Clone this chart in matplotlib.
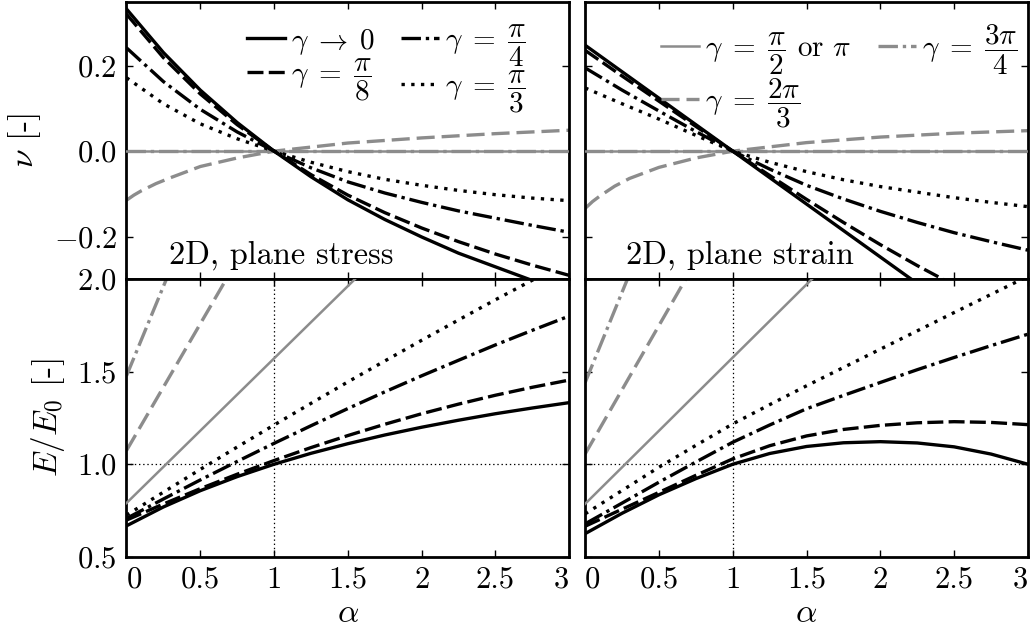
import matplotlib
matplotlib.use('Agg')
import matplotlib.pyplot as plt

plt.rc('font', family='serif', serif=['cmr10'], size=22)
plt.rc('mathtext', fontset='cm')
plt.rc('axes', linewidth=2.0, labelsize=24)
plt.rc('axes.formatter', use_mathtext=True)
plt.rc('lines', scale_dashes=False)
plt.rc('legend', fontsize=21)

# alpha grid used for the black curves
alpha = [0, 0.25, 0.5, 0.75, 1, 1.25, 1.5, 1.75, 2, 2.25, 2.5, 2.75, 3]
# finer grid near 0 for the grey nu curves, short grid for the straight grey E lines
alpha_fine = [0, 0.05, 0.1, 0.2, 0.3, 0.5, 0.75, 1, 1.5, 2, 2.5, 3]
alpha_lin = [0, 0.5, 1, 1.5, 2]

# --- 2D plane stress, Poisson ratio nu
nu_stress_g0 = [0.333, 0.231, 0.143, 0.067, 0.0, -0.060, -0.114, -0.160, -0.201, -0.239, -0.271, -0.303, -0.333]
nu_stress_pi8 = [0.321, 0.219, 0.134, 0.062, 0.0, -0.055, -0.103, -0.144, -0.180, -0.212, -0.241, -0.267, -0.291]
nu_stress_pi4 = [0.242, 0.163, 0.098, 0.045, 0.0, -0.039, -0.072, -0.098, -0.120, -0.140, -0.157, -0.174, -0.190]
nu_stress_pi3 = [0.172, 0.111, 0.064, 0.029, 0.0, -0.026, -0.048, -0.066, -0.080, -0.092, -0.102, -0.110, -0.116]
nu_stress_pi2 = [0.0] * len(alpha)
nu_stress_3pi4 = [0.0] * len(alpha)
nu_stress_2pi3 = [-0.115, -0.103, -0.093, -0.076, -0.062, -0.036, -0.016, 0.0, 0.019, 0.031, 0.041, 0.049]

# --- 2D plane strain, Poisson ratio nu
nu_strain_g0 = [0.248, 0.186, 0.124, 0.062, 0.0, -0.062, -0.124, -0.186, -0.248, -0.310, -0.372, -0.434, -0.496]
nu_strain_pi8 = [0.236, 0.176, 0.117, 0.058, 0.0, -0.057, -0.113, -0.167, -0.219, -0.268, -0.314, -0.358, -0.400]
nu_strain_pi4 = [0.195, 0.143, 0.094, 0.046, 0.0, -0.042, -0.080, -0.112, -0.141, -0.167, -0.191, -0.212, -0.232]
nu_strain_pi3 = [0.148, 0.111, 0.075, 0.037, 0.0, -0.026, -0.048, -0.067, -0.083, -0.096, -0.109, -0.120, -0.130]
nu_strain_pi2 = [0.0] * len(alpha)
nu_strain_3pi4 = [0.0] * len(alpha)
nu_strain_2pi3 = [-0.134, -0.118, -0.105, -0.082, -0.064, -0.038, -0.016, 0.0, 0.020, 0.033, 0.042, 0.048]

# --- 2D plane stress, stiffness E/E0
E_stress_g0 = [0.667, 0.769, 0.857, 0.933, 1.0, 1.059, 1.111, 1.158, 1.200, 1.238, 1.273, 1.304, 1.333]
E_stress_pi8 = [0.698, 0.785, 0.868, 0.946, 1.020, 1.090, 1.155, 1.216, 1.273, 1.325, 1.373, 1.416, 1.455]
E_stress_pi4 = [0.707, 0.812, 0.915, 1.015, 1.113, 1.208, 1.301, 1.391, 1.478, 1.562, 1.645, 1.724, 1.801]
E_stress_pi3 = [0.725, 0.849, 0.972, 1.093, 1.212, 1.329, 1.445, 1.558, 1.670, 1.780, 1.889, 1.995, 2.100]
E_stress_pi2 = [0.790, 1.181, 1.572, 1.963, 2.354]
E_stress_2pi3 = [1.074, 1.759, 2.444, 3.129, 3.814]
E_stress_3pi4 = [1.478, 2.444, 3.410, 4.376, 5.342]

# --- 2D plane strain, stiffness E/E0
E_strain_g0 = [0.625, 0.735, 0.835, 0.922, 1.0, 1.058, 1.096, 1.116, 1.122, 1.115, 1.094, 1.055, 1.0]
E_strain_pi8 = [0.665, 0.757, 0.848, 0.940, 1.029, 1.100, 1.153, 1.188, 1.210, 1.224, 1.230, 1.226, 1.214]
E_strain_pi4 = [0.678, 0.790, 0.903, 1.012, 1.119, 1.212, 1.300, 1.372, 1.442, 1.511, 1.577, 1.641, 1.703]
E_strain_pi3 = [0.732, 0.858, 0.984, 1.102, 1.218, 1.322, 1.424, 1.523, 1.622, 1.721, 1.820, 1.918, 2.016]
E_strain_pi2 = [0.786, 1.181, 1.577, 1.972, 2.368]
E_strain_2pi3 = [1.056, 1.750, 2.444, 3.138, 3.832]
E_strain_3pi4 = [1.442, 2.418, 3.393, 4.369, 5.344]

black_labels = [r'$\gamma\;\rightarrow\;0$', r'$\gamma\;=\;\dfrac{\pi}{8}$',
                r'$\gamma\;=\;\dfrac{\pi}{4}$', r'$\gamma\;=\;\dfrac{\pi}{3}$']
gray_labels = [r'$\gamma\;=\;\dfrac{\pi}{2}$ or $\pi$', r'$\gamma\;=\;\dfrac{2\pi}{3}$',
               r'$\gamma\;=\;\dfrac{3\pi}{4}$']

xticks = [0, 0.5, 1, 1.5, 2, 2.5, 3]
xtick_labels = ['0', '0.5', '1', '1.5', '2', '2.5', '3']
nu_ticks = [-0.2, 0.0, 0.2]
nu_tick_labels = [r'$-0.2$', r'$0.0$', r'$0.2$']
E_ticks = [0.5, 1.0, 1.5, 2.0]
E_tick_labels = [r'$0.5$', r'$1.0$', r'$1.5$', r'$2.0$']

gray = '0.55'
st_solid = '-'
st_dash = (0, (11.5, 3.8))
st_dash_g = (0, (13, 5))
st_dashdot = (0, (14, 3.5, 2.4, 3.5))
st_dot = (0, (2.4, 4.6))
lw_k = 2.4
lw_g = 2.4
lw_gs = 1.8

fig, axes = plt.subplots(2, 2, figsize=(10.3, 6.37), dpi=100, sharex=True, sharey='row')
fig.subplots_adjust(left=0.1228, right=0.998, bottom=0.126, top=0.9973, wspace=0.036, hspace=0)

panels = [
    (axes[0, 0], [nu_stress_2pi3, nu_stress_3pi4, nu_stress_pi2],
     [nu_stress_g0, nu_stress_pi8, nu_stress_pi4, nu_stress_pi3], 'nu'),
    (axes[0, 1], [nu_strain_2pi3, nu_strain_3pi4, nu_strain_pi2],
     [nu_strain_g0, nu_strain_pi8, nu_strain_pi4, nu_strain_pi3], 'nu'),
    (axes[1, 0], [E_stress_2pi3, E_stress_3pi4, E_stress_pi2],
     [E_stress_g0, E_stress_pi8, E_stress_pi4, E_stress_pi3], 'E'),
    (axes[1, 1], [E_strain_2pi3, E_strain_3pi4, E_strain_pi2],
     [E_strain_g0, E_strain_pi8, E_strain_pi4, E_strain_pi3], 'E'),
]

for ax, grays, blacks, kind in panels:
    if kind == 'nu':
        xg = [alpha_fine, alpha, alpha]
    else:
        xg = [alpha_lin, alpha_lin, alpha_lin]
        ax.axvline(1, color='k', lw=0.9, ls=(0, (1, 2)), zorder=1)
        ax.axhline(1, color='k', lw=0.9, ls=(0, (1, 2)), zorder=1)
    l_2pi3, = ax.plot(xg[0], grays[0], color=gray, lw=lw_g, ls=st_dash_g, zorder=2)
    l_3pi4, = ax.plot(xg[1], grays[1], color=gray, lw=lw_g, ls=st_dashdot, zorder=2)
    l_pi2, = ax.plot(xg[2], grays[2], color=gray, lw=lw_gs, ls=st_solid, zorder=3)
    hk = []
    for ys, ls in zip(blacks, [st_solid, st_dash, st_dashdot, st_dot]):
        l, = ax.plot(alpha, ys, color='k', lw=lw_k, ls=ls, zorder=4)
        hk.append(l)
    ax.hk = hk
    ax.hg = [l_pi2, l_2pi3, l_3pi4]
    ax.tick_params(direction='in', top=True, right=True, length=5, width=1, pad=7)

axes[0, 0].set_ylim(-0.3, 0.35)
axes[1, 0].set_ylim(0.5, 2.0)
axes[0, 0].set_xlim(0, 3)

axes[0, 0].set_yticks(nu_ticks, nu_tick_labels)
axes[1, 0].set_yticks(E_ticks, E_tick_labels)
axes[1, 0].set_xticks(xticks, xtick_labels)

for ax in axes[1]:
    ax.set_xlabel(r'$\alpha$')
    labs = ax.get_xticklabels()
    labs[0].set_ha('left')
    labs[-1].set_ha('right')

axes[0, 0].set_ylabel(r'$\nu$ [-]')
axes[1, 0].set_ylabel(r'$E/E_0$ [-]')
axes[0, 0].yaxis.set_label_coords(-0.189, 0.5)
axes[1, 0].yaxis.set_label_coords(-0.134, 0.5)

axes[0, 0].text(0.095, 0.058, '2D, plane stress', transform=axes[0, 0].transAxes, fontsize=23.3)
axes[0, 1].text(0.093, 0.058, '2D, plane strain', transform=axes[0, 1].transAxes, fontsize=23.3)

legkw = dict(loc='upper left', ncol=2, frameon=False, handlelength=1.3, borderpad=0,
             borderaxespad=0, handletextpad=0.2, columnspacing=0.9, labelspacing=0.0)
axes[0, 0].legend(axes[0, 0].hk, black_labels, bbox_to_anchor=(0.273, 0.925), **legkw)
axes[0, 1].legend(axes[0, 1].hg, gray_labels, bbox_to_anchor=(0.172, 0.925), **legkw)

plt.savefig('out.png', dpi=100)
